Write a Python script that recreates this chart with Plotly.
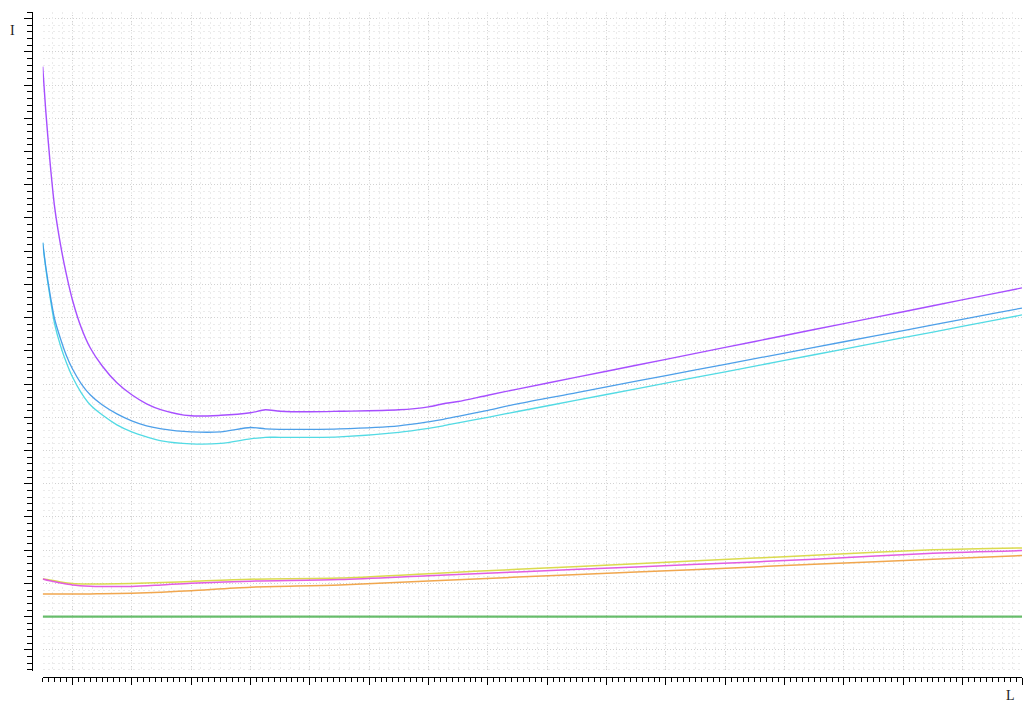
import plotly.graph_objects as go

# ---- data ----
x_upper = [0, 0.05, 0.12, 0.2, 0.3, 0.4, 0.5, 0.65, 0.8, 1.0, 1.25, 1.5, 1.75, 2.0, 2.5,
           3.0, 3.5, 3.75, 4.0, 4.5, 5.0, 6.0, 6.5, 6.75, 7.0, 7.5, 8.0, 9.0, 10, 11, 12,
           13, 14, 15, 16, 16.5]
purple = [16.557, 15.262, 13.756, 12.340, 11.196, 10.292, 9.539, 8.696, 8.093, 7.551,
          7.039, 6.678, 6.407, 6.226, 6.045, 6.060, 6.136, 6.226, 6.181, 6.166, 6.181,
          6.226, 6.316, 6.407, 6.476, 6.666, 6.849, 7.208, 7.566, 7.925, 8.283, 8.642,
          9.000, 9.358, 9.717, 9.895]
blue = [11.256, 10.563, 9.750, 8.967, 8.364, 7.852, 7.461, 7.009, 6.678, 6.377, 6.105,
        5.895, 5.744, 5.654, 5.563, 5.563, 5.693, 5.654, 5.639, 5.639, 5.654, 5.744,
        5.864, 5.940, 6.030, 6.211, 6.407, 6.744, 7.087, 7.425, 7.765, 8.105, 8.443,
        8.780, 9.120, 9.289]
cyan = [11.256, 10.503, 9.660, 8.816, 8.154, 7.642, 7.220, 6.738, 6.377, 6.075, 5.774,
        5.563, 5.413, 5.292, 5.202, 5.217, 5.352, 5.398, 5.398, 5.398, 5.413, 5.548,
        5.669, 5.744, 5.834, 6.000, 6.175, 6.515, 6.858, 7.199, 7.542, 7.883, 8.226,
        8.566, 8.910, 9.081]

x_lower = [0, 0.12, 0.3, 0.5, 0.8, 1.0, 1.5, 2.0, 2.5, 3.5, 5.0, 6.5, 8.0, 10, 12, 13, 15, 16.5]
magenta = [1.136, 1.081, 1.015, 0.955, 0.916, 0.907, 0.910, 0.955, 1.006, 1.069, 1.117,
           1.232, 1.346, 1.497, 1.648, 1.729, 1.907, 1.988]
yellow = [1.136, 1.105, 1.045, 1.000, 0.985, 0.985, 1.000, 1.027, 1.060, 1.127, 1.160,
          1.295, 1.425, 1.593, 1.762, 1.849, 2.012, 2.069]
orange = [0.684, 0.684, 0.684, 0.684, 0.684, 0.690, 0.705, 0.738, 0.780, 0.886, 0.949,
          1.075, 1.190, 1.343, 1.497, 1.575, 1.726, 1.837]
green = [0.0] * len(x_lower)

x_range = [0, 16.5]
y_range = [-1.636, 18.2]

fig = go.Figure()

def add(x, y, color, width, xaxis="x"):
    fig.add_trace(go.Scatter(x=x, y=y, mode="lines", xaxis=xaxis,
                             line=dict(color=color, width=width, shape="spline", smoothing=0.8),
                             opacity=0.92, hoverinfo="skip", showlegend=False))

add(x_lower, green, "#5cb860", 2.2, xaxis="x2")
add(x_lower, orange, "#f0a040", 1.5)
add(x_lower, yellow, "#d8d840", 1.5)
add(x_lower, magenta, "#e050e0", 1.5)
add(x_upper, cyan, "#45d8e2", 1.3)
add(x_upper, blue, "#3f98e8", 1.3)
add(x_upper, purple, "#a040ff", 1.4)

W, H = 1024, 702
ml, mr, mt, mb = 32, 2, 12, 25
pw = W - ml - mr
ph = H - mt - mb
x0 = (42.7 - ml) / pw
y0 = (677 - 671) / ph

major_grid = "#d2d2d2"
minor_grid = "#ebebeb"

fig.update_layout(
    width=W, height=H,
    margin=dict(l=ml, r=mr, t=mt, b=mb),
    paper_bgcolor="white", plot_bgcolor="white",
    showlegend=False,
    xaxis=dict(
        domain=[x0, 1], anchor="free", position=0, range=x_range,
        showline=True, linecolor="black", linewidth=1,
        ticks="outside", tick0=0.5, dtick=1, ticklen=7, tickwidth=1, tickcolor="black",
        showticklabels=False, zeroline=False,
        showgrid=True, gridcolor=major_grid, griddash="1px,2px", gridwidth=1.2,
        minor=dict(tick0=0, dtick=0.1, ticks="outside", ticklen=4, tickwidth=1,
                   tickcolor="black", showgrid=False),
    ),
    xaxis2=dict(
        overlaying="x", matches="x", domain=[x0, 1], anchor="free", position=0,
        range=x_range, showline=False, ticks="", showticklabels=False, zeroline=False,
        tick0=0.5, dtick=1 / 6, showgrid=True, gridcolor=minor_grid,
        griddash="2px,3px", gridwidth=1,
    ),
    yaxis=dict(
        domain=[y0, 1], anchor="free", position=0, range=y_range,
        showline=True, linecolor="black", linewidth=1,
        ticks="outside", tick0=0, dtick=1, ticklen=8, tickwidth=1, tickcolor="black",
        showticklabels=False, zeroline=False,
        showgrid=True, gridcolor=major_grid, griddash="1px,2px", gridwidth=1.2,
        minor=dict(tick0=0, dtick=0.2, ticks="outside", ticklen=5, tickwidth=1,
                   tickcolor="black", showgrid=True, gridcolor=minor_grid,
                   griddash="2px,3px", gridwidth=1),
    ),
    annotations=[
        dict(text="I", xref="paper", yref="paper", x=-20 / pw, y=(677 - 30) / ph,
             xanchor="center", yanchor="middle", showarrow=False,
             font=dict(family="Liberation Serif", size=14, color="#222")),
        dict(text="L", xref="paper", yref="paper", x=(1010 - ml) / pw, y=(677 - 696) / ph,
             xanchor="center", yanchor="middle", showarrow=False,
             font=dict(family="Liberation Serif", size=14, color="#222")),
    ],
)

fig.write_html("out.html")
